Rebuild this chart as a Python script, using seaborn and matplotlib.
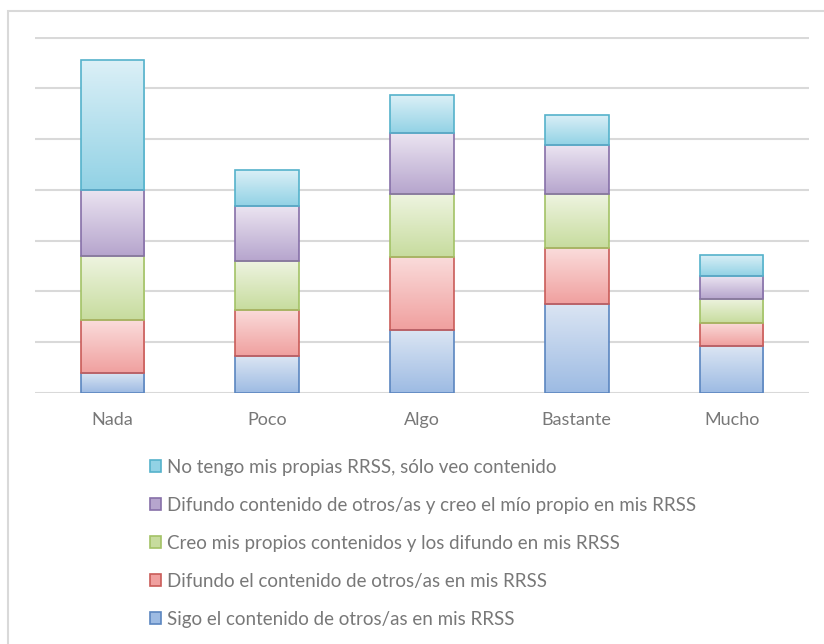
import numpy as np
import seaborn as sns
import matplotlib.pyplot as plt
from matplotlib.patches import Patch, Rectangle
from matplotlib.colors import LinearSegmentedColormap

# categorias del eje x
categorias = ['Nada', 'Poco', 'Algo', 'Bastante', 'Mucho']

# series (de abajo hacia arriba en la pila)
sigo = [2.0, 3.6, 6.2, 8.8, 4.6]
difundo_otros = [5.2, 4.6, 7.2, 5.5, 2.3]
creo_propios = [6.3, 4.8, 6.2, 5.3, 2.4]
difundo_y_creo = [6.5, 5.4, 6.0, 4.8, 2.2]
no_tengo = [12.8, 3.6, 3.7, 3.0, 2.1]

etiquetas = ['Sigo el contenido de otros/as en mis RRSS',
             'Difundo el contenido de otros/as en mis RRSS',
             'Creo mis propios contenidos y los difundo en mis RRSS',
             'Difundo contenido de otros/as y creo el mío propio en mis RRSS',
             'No tengo mis propias RRSS, sólo veo contenido']

# colores estilo Excel (arriba claro, abajo oscuro, borde)
col_arriba = ['#dbe5f3', '#fadcdb', '#eef4e0', '#ebe4f1', '#dcf0f7']
col_abajo = ['#9dbbe3', '#f0a09f', '#c7dc9e', '#b6a5cd', '#92d2e5']
col_borde = ['#5b86c0', '#c95c59', '#a3c266', '#8670a8', '#55b2cb']

sns.set_style('white')
plt.rcParams['font.family'] = ['Lato', 'DejaVu Sans']
gris = '#787878'

fig = plt.figure(figsize=(8.24, 6.44), dpi=100)
ax = fig.add_axes([35 / 824, 1 - 393 / 644, 774 / 824, 356 / 644])

series = [sigo, difundo_otros, creo_propios, difundo_y_creo, no_tengo]
x = np.arange(len(categorias))
base = np.zeros(len(categorias))
grad = np.linspace(1, 0, 100).reshape(-1, 1)

for i, valores in enumerate(series):
    barras = ax.bar(x, valores, bottom=base, width=0.41, facecolor='none',
                    edgecolor=col_borde[i], linewidth=1.2, zorder=3)
    cmap = LinearSegmentedColormap.from_list('g%d' % i, [col_abajo[i], col_arriba[i]])
    #relleno degradado dentro de cada barra
    for b in barras:
        im = ax.imshow(grad, extent=[b.get_x(), b.get_x() + b.get_width(),
                                     b.get_y(), b.get_y() + b.get_height()],
                       cmap=cmap, vmin=0, vmax=1, aspect='auto', origin='upper', zorder=2)
        im.set_clip_path(b)
    base = base + np.array(valores)

ax.set_xlim(-0.5, len(categorias) - 0.5)
ax.set_ylim(0, 35.05)
ax.set_yticks(np.arange(0, 36, 5))
ax.set_yticklabels([])
ax.set_xticks(x)
ax.set_xticklabels(categorias, color=gris, fontsize=13)
ax.tick_params(axis='x', length=0, pad=13.5)
ax.tick_params(axis='y', length=0)
ax.yaxis.grid(True, color='#d9d9d9', linewidth=1.5, zorder=0)
ax.set_axisbelow(True)
sns.despine(ax=ax, left=True, bottom=True)

#leyenda en orden inverso
handles = [Patch(facecolor=col_abajo[i], edgecolor=col_borde[i], linewidth=1.2) for i in range(5)]
fig.legend(handles[::-1], etiquetas[::-1], loc='upper left',
           bbox_to_anchor=(150 / 824, 1 - 459 / 644), frameon=False,
           borderpad=0, borderaxespad=0, handlelength=0.6, handleheight=0.6,
           handletextpad=0.3, labelspacing=1.12, fontsize=13.5, labelcolor=gris)

#marco del grafico
fig.patches.append(Rectangle((8 / 824, -0.02), 1.0, 1 - 11 / 644 + 0.02,
                             transform=fig.transFigure, fill=False,
                             edgecolor='#d9d9d9', linewidth=1.5))

fig.savefig('out.png', dpi=100)
